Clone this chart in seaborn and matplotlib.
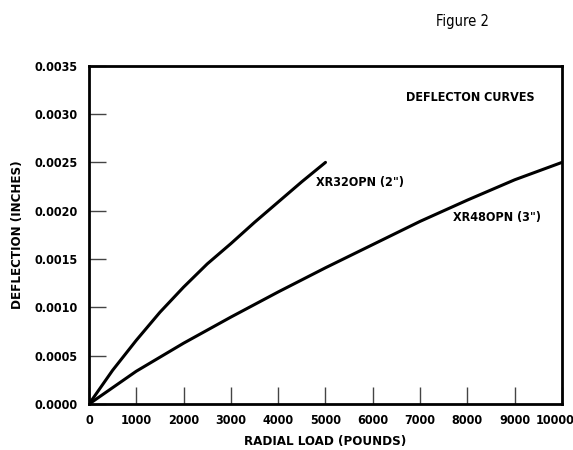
import numpy as np
import pandas as pd
import matplotlib
matplotlib.use("Agg")
import matplotlib.pyplot as plt
import matplotlib.transforms as mtransforms
import seaborn as sns

# values
load_2in = [0, 500, 1000, 1500, 2000, 2500, 3000, 3500, 4000, 4500, 5000]
defl_2in = [0, 0.00035, 0.00066, 0.00095, 0.00121, 0.00145, 0.00166, 0.00188, 0.00209, 0.00230, 0.00250]

load_3in = [0, 1000, 2000, 3000, 4000, 5000, 6000, 7000, 8000, 9000, 10000]
defl_3in = [0, 0.00034, 0.00063, 0.00090, 0.00116, 0.00141, 0.00165, 0.00189, 0.00211, 0.00232, 0.00250]

x_ticks = [0, 1000, 2000, 3000, 4000, 5000, 6000, 7000, 8000, 9000, 10000]
y_ticks = [0.0, 0.0005, 0.0010, 0.0015, 0.0020, 0.0025, 0.0030, 0.0035]

df = pd.concat([
    pd.DataFrame({"load": load_2in, "defl": defl_2in, "part": "XR32OPN (2\")"}),
    pd.DataFrame({"load": load_3in, "defl": defl_3in, "part": "XR48OPN (3\")"}),
])

sns.set_style("white")
plt.rcParams["font.family"] = ["DejaVu Sans"]
plt.rcParams["font.stretch"] = "condensed"
plt.rcParams["text.color"] = "black"
plt.rcParams["axes.labelcolor"] = "black"
plt.rcParams["xtick.labelcolor"] = "black"
plt.rcParams["ytick.labelcolor"] = "black"

fig = plt.figure(figsize=(5.73, 4.5), dpi=100)
ax = fig.add_axes([0.1553, 0.102, 0.8255, 0.752])

sns.lineplot(data=df, x="load", y="defl", units="part", estimator=None,
             color="black", linewidth=2.2, sort=False, ax=ax, legend=False)

ax.set_xlim(0, 10000)
ax.set_ylim(0, 0.0035)
ax.set_xticks(x_ticks)
ax.set_yticks(y_ticks)
ax.set_xticklabels([str(t) for t in x_ticks], fontsize=9, fontweight="bold")
ax.set_yticklabels(["%.4f" % t for t in y_ticks], fontsize=9, fontweight="bold")
ax.tick_params(axis="both", direction="in", length=12, width=1, color="#444444",
               bottom=True, left=True)
ax.tick_params(axis="x", pad=7)
ax.tick_params(axis="y", pad=8)
for s in ax.spines.values():
    s.set_linewidth(2)
    s.set_color("black")

# last x label sits a bit left of its tick so it stays inside the figure
last = ax.get_xticklabels()[-1]
last.set_transform(last.get_transform() + mtransforms.ScaledTranslation(-7 / 100, 0, fig.dpi_scale_trans))

ax.set_xlabel("RADIAL LOAD (POUNDS)", fontsize=9.5, fontweight="bold", labelpad=6)
ax.set_ylabel("DEFLECTION (INCHES)", fontsize=9.5, fontweight="bold", labelpad=8)

ax.text(4800, 0.00229, "XR32OPN (2\")", fontsize=9, fontweight="bold", va="center", ha="left")
ax.text(7695, 0.001925, "XR48OPN (3\")", fontsize=9, fontweight="bold", va="center", ha="left")
ax.text(8065, 0.00317, "DEFLECTON CURVES", fontsize=9, fontweight="bold", va="center", ha="center")

fig.text(463 / 573, 1 - 21.7 / 450, "Figure 2", fontsize=10.5, ha="center", va="center")

fig.savefig("out.png", dpi=100)
